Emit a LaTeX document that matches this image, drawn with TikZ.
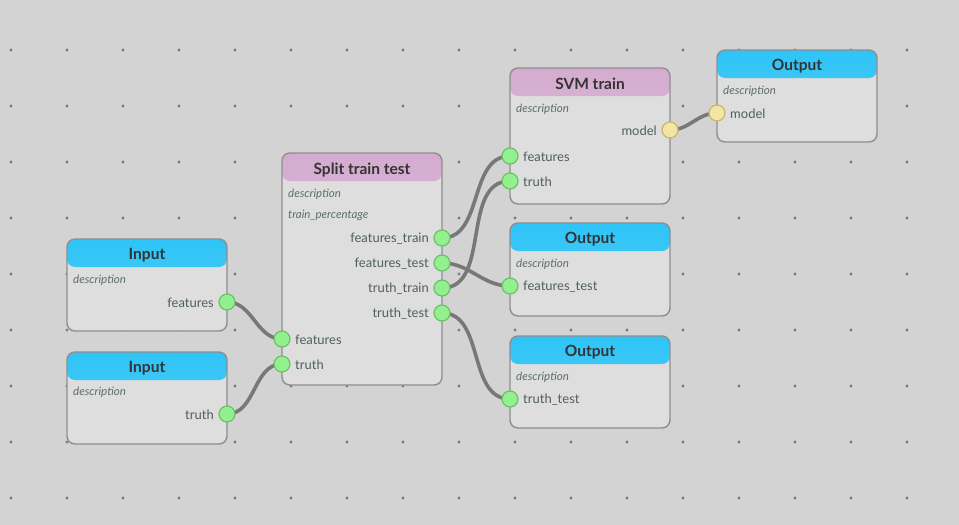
\documentclass[tikz,border=0pt]{standalone}
\usepackage{fontspec}
\setmainfont{Lato}
\usetikzlibrary{calc}
\definecolor{bgc}{HTML}{D3D3D3}
\definecolor{dotc}{HTML}{7C7C7C}
\definecolor{boxfill}{HTML}{DEDEDE}
\definecolor{boxborder}{HTML}{8E8E8E}
\definecolor{bluetop}{HTML}{2EC4F8}
\definecolor{bluebot}{HTML}{55CDF0}
\definecolor{pinktop}{HTML}{D4ACD0}
\definecolor{pinkbot}{HTML}{DDBCDA}
\definecolor{titlec}{HTML}{333333}
\definecolor{labelc}{HTML}{4E5F5E}
\definecolor{descc}{HTML}{5E6E6D}
\definecolor{wirec}{HTML}{787878}
\definecolor{portg}{HTML}{92F08E}
\definecolor{portgb}{HTML}{6CC068}
\definecolor{porty}{HTML}{F2E6A4}
\definecolor{portyb}{HTML}{C9B566}
\pgfdeclarelayer{back}
\pgfdeclarelayer{wires}
\pgfsetlayers{back,wires,main}
\begin{document}
\begin{tikzpicture}[x=1pt,y=-1pt,
  box/.style={draw=boxborder, line width=1.4pt, fill=boxfill, rounded corners=8pt,
    anchor=north west, inner sep=0pt, outer sep=0pt, minimum width=160pt},
  hblue/.style={path picture={\shade[top color=bluetop,bottom color=bluebot]
    (path picture bounding box.north west) rectangle ([yshift=-28pt]path picture bounding box.north east);}},
  hpink/.style={path picture={\shade[top color=pinktop,bottom color=pinkbot]
    (path picture bounding box.north west) rectangle ([yshift=-28pt]path picture bounding box.north east);}},
  title/.style={text=titlec, font=\bfseries\fontsize{15.5}{18}\selectfont, inner sep=0pt},
  plabel/.style={text=labelc, font=\fontsize{13}{15}\selectfont, inner sep=0pt},
  desc/.style={text=descc, font=\itshape\fontsize{11.5}{13}\selectfont, inner sep=0pt, anchor=west},
  gport/.style={circle, draw=portgb, fill=portg, line width=1.2pt, minimum size=16pt, inner sep=0pt},
  yport/.style={circle, draw=portyb, fill=porty, line width=1.2pt, minimum size=16pt, inner sep=0pt},
  wire/.style={draw=wirec, line width=3.6pt, line cap=round},
]
\useasboundingbox (0,0) rectangle (959,525);
\begin{pgfonlayer}{back}
  \fill[bgc] (0,0) rectangle (959,525);
  \foreach \x in {11,67,...,907} \foreach \y in {50,106,...,498}
    \fill[dotc] (\x,\y) circle (1.6pt);
\end{pgfonlayer}

% boxes
\node[box, hblue, minimum height=92pt] (in1) at (67,239) {};
\node[box, hblue, minimum height=92pt] (in2) at (67,352) {};
\node[box, hpink, minimum height=232pt] (split) at (282,153) {};
\node[box, hpink, minimum height=136pt] (svm) at (510,68) {};
\node[box, hblue, minimum height=92pt] (out1) at (717,50) {};
\node[box, hblue, minimum height=93pt] (out2) at (510,223) {};
\node[box, hblue, minimum height=92pt] (out3) at (510,336) {};

% titles
\node[title] (in1t) at ($(in1.north)+(0,16)$) {Input};
\node[title] (in2t) at ($(in2.north)+(0,16)$) {Input};
\node[title] (splitt) at ($(split.north)+(0,17)$) {Split train test};
\node[title] (svmt) at ($(svm.north)+(0,15.5)$) {SVM train};
\node[title] (out1t) at ($(out1.north)+(0,16)$) {Output};
\node[title] (out2t) at ($(out2.north)+(0,16)$) {Output};
\node[title] (out3t) at ($(out3.north)+(0,16)$) {Output};

% descriptions
\node[desc] (in1d) at (73,280) {description};
\node[desc] (in2d) at (73,392) {description};
\node[desc] (splitd) at (288,194) {description};
\node[desc] (splitp) at (288,215) {train\_percentage};
\node[desc] (svmd) at (516,109) {description};
\node[desc] (out1d) at (723,91) {description};
\node[desc] (out2d) at (516,264) {description};
\node[desc] (out3d) at (516,377) {description};

% ports
\node[gport] (in1-f) at (227,302) {};
\node[gport] (in2-t) at (227,414) {};
\node[gport] (sp-fi) at (282,339) {};
\node[gport] (sp-ti) at (282,364) {};
\node[gport] (sp-ftr) at (442,238) {};
\node[gport] (sp-fte) at (442,263) {};
\node[gport] (sp-ttr) at (442,288) {};
\node[gport] (sp-tte) at (442,313) {};
\node[gport] (svm-f) at (510,156) {};
\node[gport] (svm-t) at (510,181) {};
\node[yport] (svm-m) at (670,130) {};
\node[yport] (out1-m) at (717,113) {};
\node[gport] (out2-f) at (510,286) {};
\node[gport] (out3-t) at (510,399) {};

% port labels
\node[plabel, anchor=east] (l1) at ($(in1-f)+(-13,1)$) {features};
\node[plabel, anchor=east] (l2) at ($(in2-t)+(-13,1)$) {truth};
\node[plabel, anchor=west] (l3) at ($(sp-fi)+(13,1)$) {features};
\node[plabel, anchor=west] (l4) at ($(sp-ti)+(13,1)$) {truth};
\node[plabel, anchor=east] (l5) at ($(sp-ftr)+(-13,1)$) {features\_train};
\node[plabel, anchor=east] (l6) at ($(sp-fte)+(-13,1)$) {features\_test};
\node[plabel, anchor=east] (l7) at ($(sp-ttr)+(-13,1)$) {truth\_train};
\node[plabel, anchor=east] (l8) at ($(sp-tte)+(-13,1)$) {truth\_test};
\node[plabel, anchor=west] (l9) at ($(svm-f)+(13,1)$) {features};
\node[plabel, anchor=west] (l10) at ($(svm-t)+(13,1)$) {truth};
\node[plabel, anchor=east] (l11) at ($(svm-m)+(-13,1)$) {model};
\node[plabel, anchor=west] (l12) at ($(out1-m)+(13,1)$) {model};
\node[plabel, anchor=west] (l13) at ($(out2-f)+(13,1)$) {features\_test};
\node[plabel, anchor=west] (l14) at ($(out3-t)+(13,1)$) {truth\_test};

% wires
\begin{pgfonlayer}{wires}
  \draw[wire] (in1-f.center) to[out=0,in=180] (sp-fi.center);
  \draw[wire] (in2-t.center) to[out=0,in=180] (sp-ti.center);
  \draw[wire] (sp-ftr.center) to[out=0,in=180] (svm-f.center);
  \draw[wire] (sp-ttr.center) to[out=0,in=180] (svm-t.center);
  \draw[wire] (sp-fte.center) to[out=0,in=180] (out2-f.center);
  \draw[wire] (sp-tte.center) to[out=0,in=180] (out3-t.center);
  \draw[wire] (svm-m.center) to[out=0,in=180] (out1-m.center);
\end{pgfonlayer}
\end{tikzpicture}
\end{document}
